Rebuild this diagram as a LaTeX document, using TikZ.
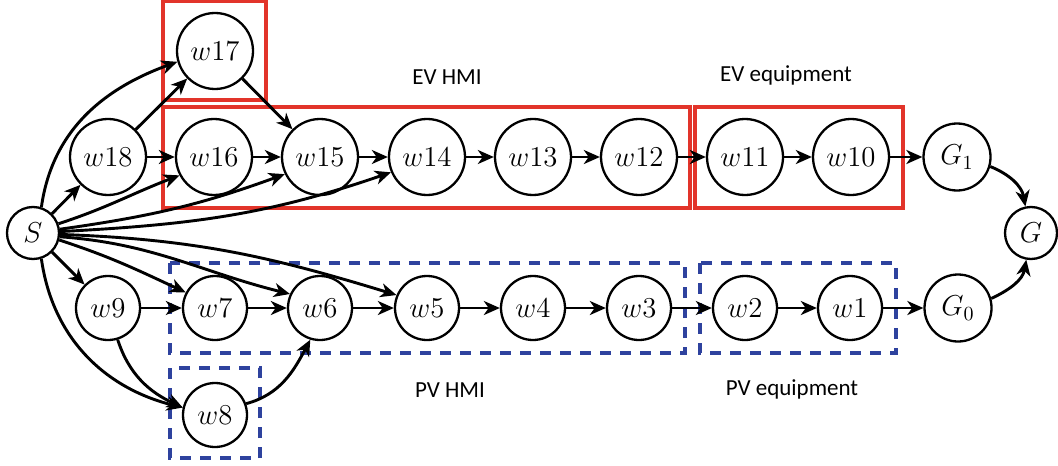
\documentclass[tikz,border=0pt]{standalone}
\usepackage{fontspec}
\newfontfamily\labfont{Carlito}
\usetikzlibrary{arrows.meta}
\definecolor{boxred}{RGB}{226,52,42}
\definecolor{boxblue}{RGB}{46,66,158}
\tikzset{
  vtx/.style={circle,draw=black,line width=1.15pt,inner sep=0pt,font=\fontsize{14}{16}\selectfont},
  bigv/.style={vtx,minimum size=38pt},
  midv/.style={vtx,minimum size=32pt},
  gv/.style={vtx,minimum size=33.5pt},
  smallv/.style={vtx,minimum size=26pt},
  edge/.style={line width=1.45pt,-{Stealth[length=8pt,width=7pt,inset=2.4pt]}},
  redbox/.style={draw=boxred,line width=1.8pt},
  bluebox/.style={draw=boxblue,line width=2pt,dash pattern=on 5.5pt off 4.5pt},
  lab/.style={font=\labfont\fontsize{11.5}{13}\selectfont}
}
\begin{document}
\begin{tikzpicture}[x=0.5pt,y=-0.5pt]
\useasboundingbox (0,0) rectangle (1058,465);
% boxes
\draw[redbox] (163,1) rectangle (266,100);
\draw[redbox] (163,107) rectangle (690,208);
\draw[redbox] (695,107) rectangle (903,208);
\draw[bluebox] (170,263) rectangle (685,353);
\draw[bluebox] (700,263) rectangle (896,353);
\draw[bluebox] (170,368) rectangle (260,458);
% labels
\node[lab] (l1) at (447,77) {EV HMI};
\node[lab] (l2) at (786,75) {EV equipment};
\node[lab] (l3) at (450,390) {PV HMI};
\node[lab] (l4) at (792,389) {PV equipment};
% nodes
\node[smallv] (S) at (33,233) {$S$};
\node[bigv] (w17) at (215,51) {$w17$};
\node[bigv] (w18) at (108,157) {$w18$};
\node[bigv] (w16) at (214,157) {$w16$};
\node[bigv] (w15) at (320,157) {$w15$};
\node[bigv] (w14) at (427,157) {$w14$};
\node[bigv] (w13) at (533,157) {$w13$};
\node[bigv] (w12) at (639,157) {$w12$};
\node[bigv] (w11) at (745,157) {$w11$};
\node[bigv] (w10) at (851,157) {$w10$};
\node[gv] (G1) at (957,157) {$G_1$};
\node[smallv] (G) at (1031,233) {$G$};
\node[gv] (G0) at (958,308) {$G_0$};
\node[midv] (w9) at (108,308) {$w9$};
\node[midv] (w7) at (215,308) {$w7$};
\node[midv] (w6) at (320,308) {$w6$};
\node[midv] (w5) at (427,308) {$w5$};
\node[midv] (w4) at (533,308) {$w4$};
\node[midv] (w3) at (639,308) {$w3$};
\node[midv] (w2) at (745,308) {$w2$};
\node[midv] (w1) at (850,308) {$w1$};
\node[midv] (w8) at (215,415) {$w8$};
% edges from S
\draw[edge] (S.72) to[out=82,in=200] (w17.196);
\draw[edge] (S) -- (w18);
\draw[edge] (S.20) to[out=18,in=201] (w16.208);
\draw[edge] (S.8) to[out=8,in=200] (w15.206);
\draw[edge] (S.3) to[out=3,in=199] (w14.203);
\draw[edge] (S) -- (w9);
\draw[edge] (S.-15) to[out=-18,in=155] (w7.152);
\draw[edge] (S.-8) to[out=-4,in=166] (w6.155);
\draw[edge] (S.-3) to[out=-2,in=163] (w5.157);
\draw[edge] (S.-72) to[out=-82,in=166] (w8.167);
% upper chain
\draw[edge] (w18) -- (w17);
\draw[edge] (w18) -- (w16);
\draw[edge] (w17) -- (w15);
\draw[edge] (w16) -- (w15);
\draw[edge] (w15) -- (w14);
\draw[edge] (w14) -- (w13);
\draw[edge] (w13) -- (w12);
\draw[edge] (w12) -- (w11);
\draw[edge] (w11) -- (w10);
\draw[edge] (w10) -- (G1);
\draw[edge] (G1.-16) to[out=-22,in=100] (G.102);
% lower chain
\draw[edge] (w9) -- (w7);
\draw[edge] (w9.-73) to[out=-72,in=155] (w8.167);
\draw[edge] (w8.20) to[out=15,in=-118] (w6.-107);
\draw[edge] (w7) -- (w6);
\draw[edge] (w6) -- (w5);
\draw[edge] (w5) -- (w4);
\draw[edge] (w4) -- (w3);
\draw[edge] (w3) -- (w2);
\draw[edge] (w2) -- (w1);
\draw[edge] (w1) -- (G0);
\draw[edge] (G0.16) to[out=25,in=-100] (G.-100);
\end{tikzpicture}
\end{document}
